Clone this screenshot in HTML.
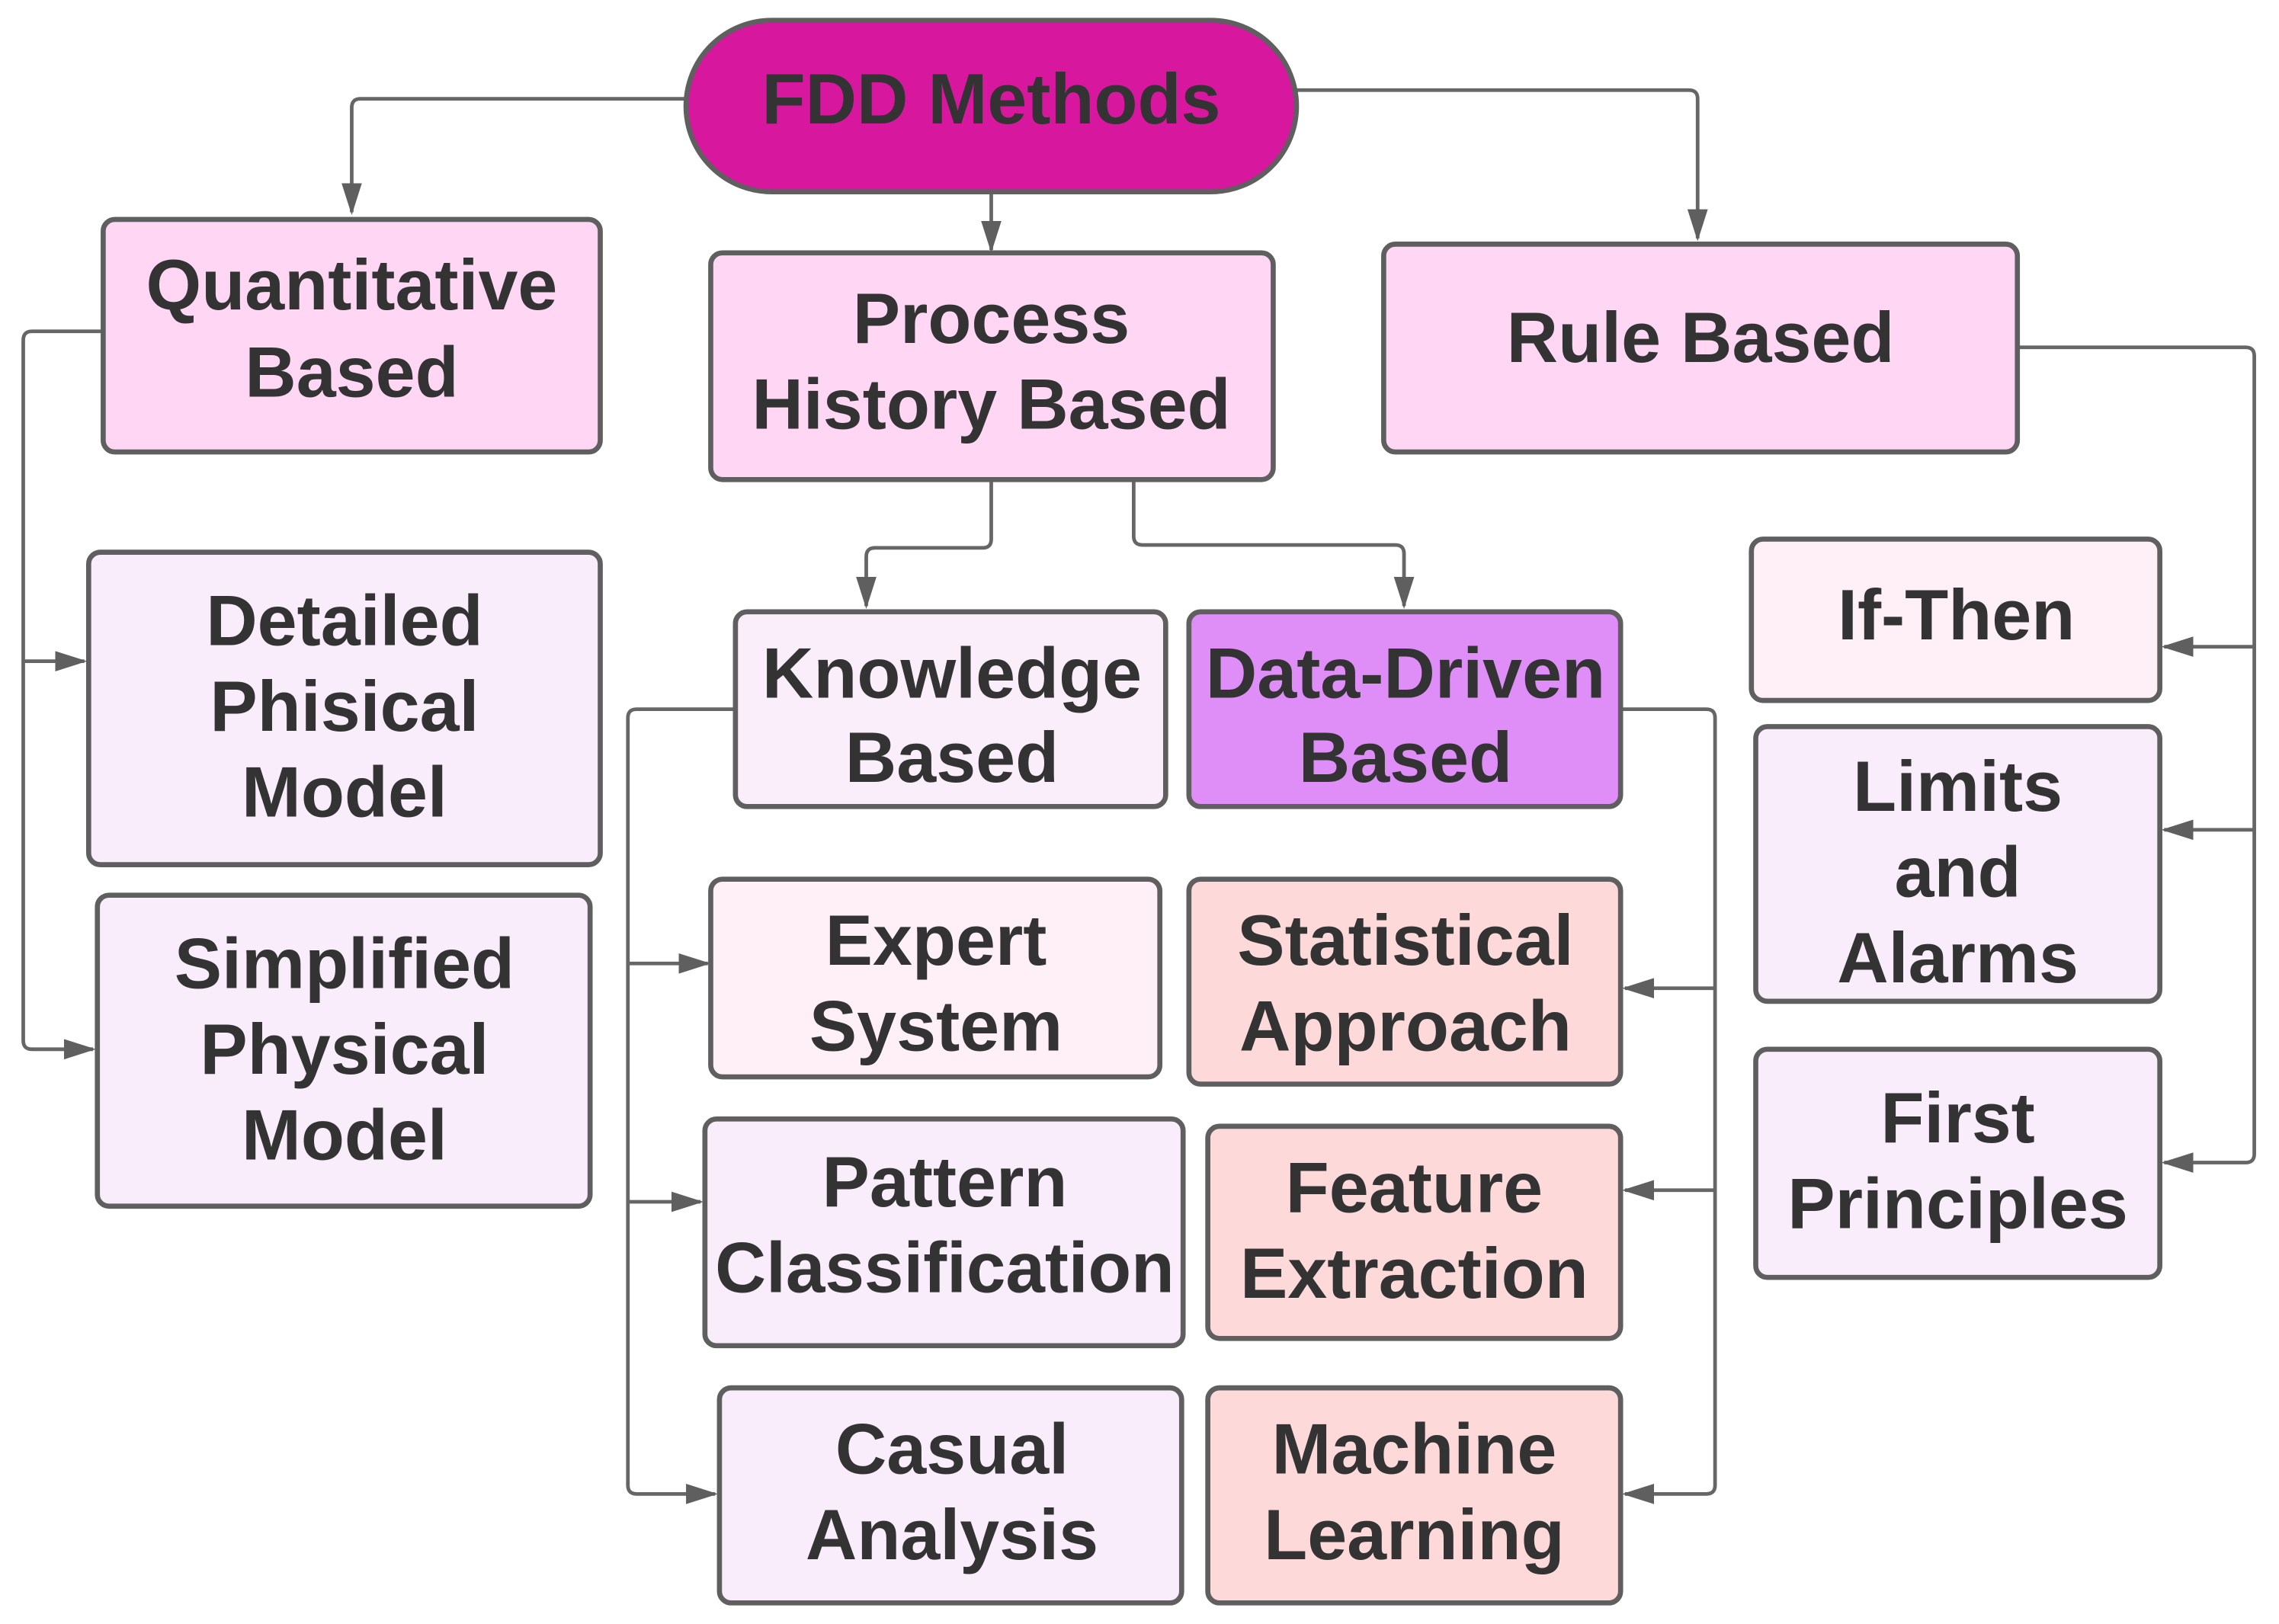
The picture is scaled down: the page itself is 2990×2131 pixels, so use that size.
<!DOCTYPE html>
<html><head><meta charset="utf-8"><style>html,body{margin:0;padding:0;background:#fff}svg{display:block}</style></head>
<body>
<svg width="2990" height="2131" viewBox="0 0 1568 1117.5" preserveAspectRatio="none" xmlns="http://www.w3.org/2000/svg">
<defs>
<marker id="b" markerWidth="22" markerHeight="14" refX="20" refY="7" orient="auto" markerUnits="userSpaceOnUse"><path d="M0,0 L22,7 L0,14 z" fill="#5f5f5f"/></marker></defs>
<g fill="none" stroke="#666" stroke-width="2.5">
<path d="M472,68 H248 Q242,68 242,74 V146" marker-end="url(#b)"/>
<path d="M682,132 V172" marker-end="url(#b)"/>
<path d="M892,62 H1162 Q1168,62 1168,68 V164" marker-end="url(#b)"/>
<path d="M71,228 H22 Q16,228 16,234 V716 Q16,722 22,722 H64" marker-end="url(#b)"/>
<path d="M16,455 H58" marker-end="url(#b)"/>
<path d="M682,330 V371 Q682,377 676,377 H602 Q596,377 596,383 V417" marker-end="url(#b)"/>
<path d="M780,330 V369 Q780,375 786,375 H960 Q966,375 966,381 V417" marker-end="url(#b)"/>
<path d="M506,488 H438 Q432,488 432,494 V1022 Q432,1028 438,1028 H492" marker-end="url(#b)"/>
<path d="M432,663 H487" marker-end="url(#b)"/>
<path d="M432,827 H482" marker-end="url(#b)"/>
<path d="M1115,488 H1174 Q1180,488 1180,494 V1022 Q1180,1028 1174,1028 H1118" marker-end="url(#b)"/>
<path d="M1180,680 H1118" marker-end="url(#b)"/>
<path d="M1180,819 H1118" marker-end="url(#b)"/>
<path d="M1388,239 H1545 Q1551,239 1551,245 V794 Q1551,800 1545,800 H1489" marker-end="url(#b)"/>
<path d="M1551,445 H1489" marker-end="url(#b)"/>
<path d="M1551,571 H1489" marker-end="url(#b)"/>
</g>
<g stroke="#5f5f5f" stroke-width="3.5">
<rect x="472" y="14" width="420" height="118" rx="59" fill="#d8179f"/>
<rect x="71" y="151" width="342" height="160" rx="8" fill="#ffd6f4"/>
<rect x="489" y="174" width="387" height="156" rx="8" fill="#ffd6f4"/>
<rect x="952" y="168" width="436" height="143" rx="8" fill="#ffd6f4"/>
<rect x="61" y="380" width="352" height="215" rx="8" fill="#f9ecfb"/>
<rect x="67" y="616" width="339" height="214" rx="8" fill="#f9ecfb"/>
<rect x="506" y="421" width="296" height="134" rx="8" fill="#fbeefb"/>
<rect x="818" y="421" width="297" height="134" rx="8" fill="#de8ef6"/>
<rect x="489" y="605" width="309" height="136" rx="8" fill="#fff0f8"/>
<rect x="818" y="605" width="297" height="141" rx="8" fill="#fdd9da"/>
<rect x="485" y="770" width="329" height="156" rx="8" fill="#f9ecfb"/>
<rect x="831" y="775" width="284" height="146" rx="8" fill="#fdd9da"/>
<rect x="495" y="955" width="318" height="148" rx="8" fill="#f9ecfb"/>
<rect x="831" y="955" width="284" height="148" rx="8" fill="#fdd9da"/>
<rect x="1205" y="371" width="281" height="111" rx="8" fill="#fff0f8"/>
<rect x="1208" y="500" width="278" height="189" rx="8" fill="#f9ecfb"/>
<rect x="1208" y="722" width="278" height="157" rx="8" fill="#f9ecfb"/>
</g>
<g font-family="Liberation Sans, sans-serif" font-weight="bold" font-size="49" fill="#333" text-anchor="middle">
<text x="682" y="85" font-size="49">FDD Methods</text>
<text x="242" y="213">Quantitative</text><text x="242" y="273">Based</text>
<text x="682" y="236">Process</text><text x="682" y="295">History Based</text>
<text x="1170" y="249">Rule Based</text>
<text x="237" y="444">Detailed</text><text x="237" y="503">Phisical</text><text x="237" y="562">Model</text>
<text x="237" y="680">Simplified</text><text x="237" y="739">Physical</text><text x="237" y="798">Model</text>
<text x="655" y="480">Knowledge</text><text x="655" y="538">Based</text>
<text x="967" y="480">Data-Driven</text><text x="967" y="538">Based</text>
<text x="644" y="664">Expert</text><text x="644" y="723">System</text>
<text x="967" y="664">Statistical</text><text x="967" y="723">Approach</text>
<text x="650" y="830">Pattern</text><text x="650" y="889" textLength="316" lengthAdjust="spacingAndGlyphs">Classification</text>
<text x="973" y="834">Feature</text><text x="973" y="893">Extraction</text>
<text x="655" y="1014">Casual</text><text x="655" y="1073">Analysis</text>
<text x="973" y="1014">Machine</text><text x="973" y="1073">Learning</text>
<text x="1346" y="440">If-Then</text>
<text x="1347" y="558">Limits</text><text x="1347" y="617">and</text><text x="1347" y="676">Alarms</text>
<text x="1347" y="786">First</text><text x="1347" y="845">Principles</text>
</g>
</svg>
</body></html>
